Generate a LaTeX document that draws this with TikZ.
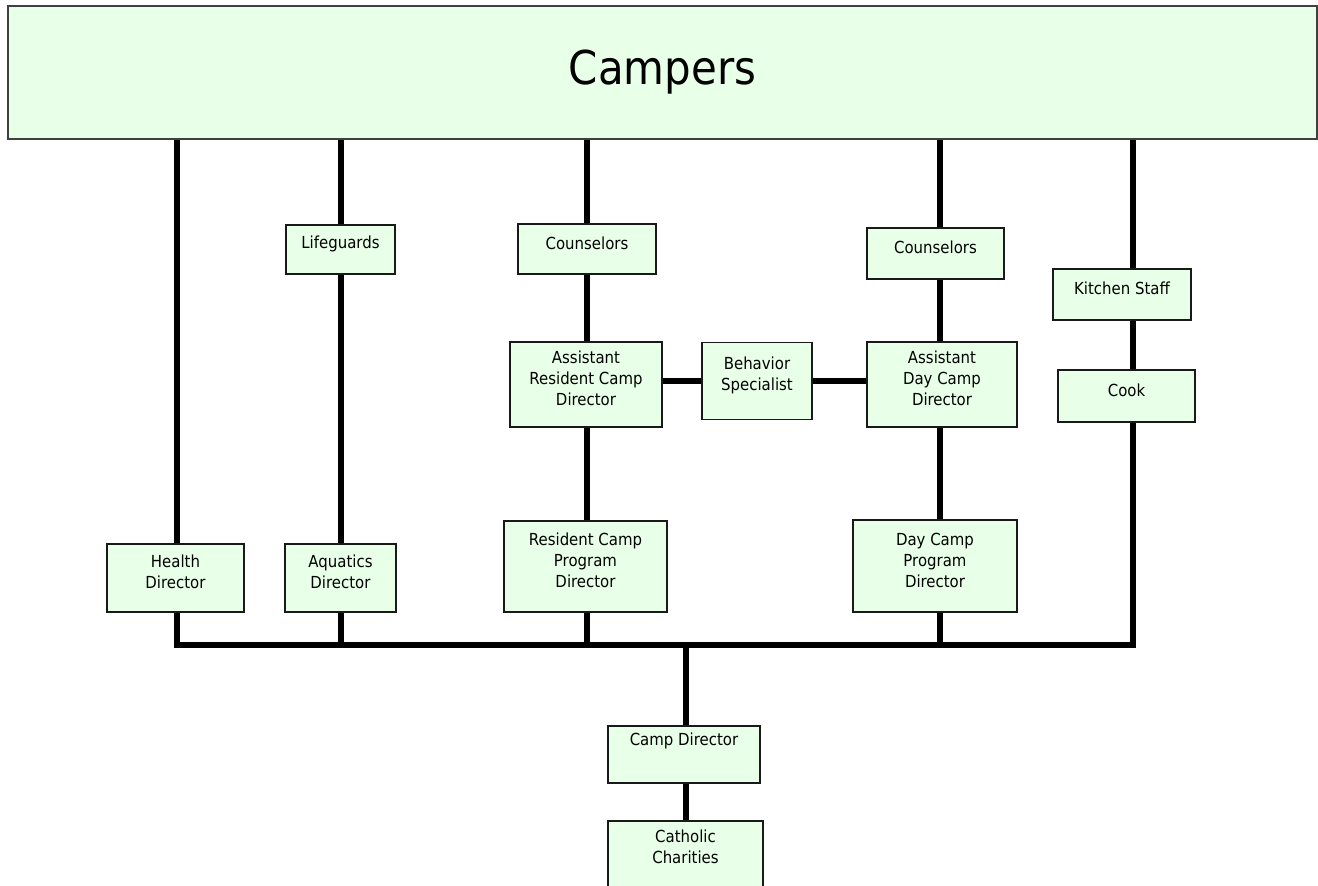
\documentclass[tikz,border=0pt]{standalone}
\usepackage{fontspec}
\setmainfont{DejaVu Sans}[FakeStretch=0.9]
\usetikzlibrary{positioning}
\definecolor{campgreen}{HTML}{E8FFE8}
\newcommand\postfont{\fontsize{8.3}{10.5}\selectfont}
\newcommand\headfont{\fontsize{23.3}{28}\selectfont}
\tikzset{
  post/.style = {rectangle, draw=black!90, line width=0.9pt,
                 fill=campgreen, inner sep=0pt},
  txt/.style  = {align=center, font=\postfont, inner sep=0pt, yshift=3pt},
  bar/.style  = {line width=2.6pt, black},
}

\begin{document}
\begin{tikzpicture}[x=0.5pt, y=-0.5pt]
  \useasboundingbox (0,0) rectangle (1318,886);

  \node[post, draw=black!75, minimum width=654.5pt, minimum height=66.5pt,
        font=\headfont] (campers) at (662.5,72.5) {Campers};

  % left columns
  \node[post, minimum width=68.5pt, minimum height=34pt,
        label={[txt]center:Health\\Director}] (health) at (175.5,578) {};
  \node[post, minimum width=54.5pt, minimum height=24.5pt,
        label={[txt]center:Lifeguards}] (lg) at (340.5,249.5) {};
  \node[post, minimum width=55.5pt, minimum height=34pt,
        label={[txt]center:Aquatics\\Director}] (aq) at (340.5,578) {};

  % resident camp
  \node[post, minimum width=69pt, minimum height=25pt,
        label={[txt]center:Counselors}] (couR) at (587,249) {};
  \node[post, minimum width=76pt, minimum height=42.5pt,
        label={[txt]center:Assistant\\Resident Camp\\Director}] (arcd) at (586,384.5) {};
  \node[post, minimum width=81.5pt, minimum height=45.5pt,
        label={[txt]center:Resident Camp\\Program\\Director}] (rcpd) at (585.5,566.5) {};

  \node[post, minimum width=55pt, minimum height=38.5pt,
        label={[txt]center:Behavior\\Specialist}] (behav) at (757,381) {};

  % day camp
  \node[post, minimum width=68.5pt, minimum height=25.5pt,
        label={[txt]center:Counselors}] (couD) at (935.5,253.5) {};
  \node[post, minimum width=75pt, minimum height=42.5pt,
        label={[txt]center:Assistant\\Day Camp\\Director}] (adcd) at (942,384.5) {};
  \node[post, minimum width=82pt, minimum height=46pt,
        label={[txt]center:Day Camp\\Program\\Director}] (dcpd) at (935,566) {};

  % kitchen
  \node[post, minimum width=69pt, minimum height=25.5pt,
        label={[txt]center:Kitchen Staff}] (kitchen) at (1122,294.5) {};
  \node[post, minimum width=68.5pt, minimum height=26pt,
        label={[txt]center:Cook}] (cook) at (1126.5,396) {};

  % bottom
  \node[post, minimum width=76pt, minimum height=28.5pt,
        label={[txt, yshift=4pt]center:Camp Director}] (cdir) at (684,754.5) {};
  \node[post, minimum width=77.5pt, minimum height=45pt,
        label={[txt, anchor=north, yshift=-7.5pt]north:Catholic\\Charities}] (cc) at (685.5,866) {};

  % columns on the bus
  \coordinate (bH) at (177,645);
  \coordinate (bA) at (341,645);
  \coordinate (bR) at (587,645);
  \coordinate (bC) at (686,645);
  \coordinate (bD) at (940,645);
  \coordinate (bK) at (1133,645);

  \draw[bar] (campers.south -| bH) -- (health.north -| bH);
  \draw[bar] (campers.south -| bA) -- (lg.north -| bA);
  \draw[bar] (lg.south -| bA) -- (aq.north -| bA);
  \draw[bar] (aq.south -| bA) -- (bA);

  \draw[bar] (campers.south -| bR) -- (couR.north -| bR);
  \draw[bar] (couR.south -| bR) -- (arcd.north -| bR);
  \draw[bar] (arcd.south -| bR) -- (rcpd.north -| bR);
  \draw[bar] (rcpd.south -| bR) -- (bR);

  \draw[bar] (campers.south -| bD) -- (couD.north -| bD);
  \draw[bar] (couD.south -| bD) -- (adcd.north -| bD);
  \draw[bar] (adcd.south -| bD) -- (dcpd.north -| bD);
  \draw[bar] (dcpd.south -| bD) -- (bD);

  \draw[bar] (campers.south -| bK) -- (kitchen.north -| bK);
  \draw[bar] (kitchen.south -| bK) -- (cook.north -| bK);

  \draw[bar] (health.south -| bH) -- (bH) -- (bK) -- (cook.south -| bK);

  \draw[bar] (behav.west) -- (behav.west -| arcd.east);
  \draw[bar] (behav.east) -- (behav.east -| adcd.west);

  \draw[bar] (bC) -- (cdir.north -| bC);
  \draw[bar] (cdir.south -| bC) -- (cc.north -| bC);
\end{tikzpicture}
\end{document}
